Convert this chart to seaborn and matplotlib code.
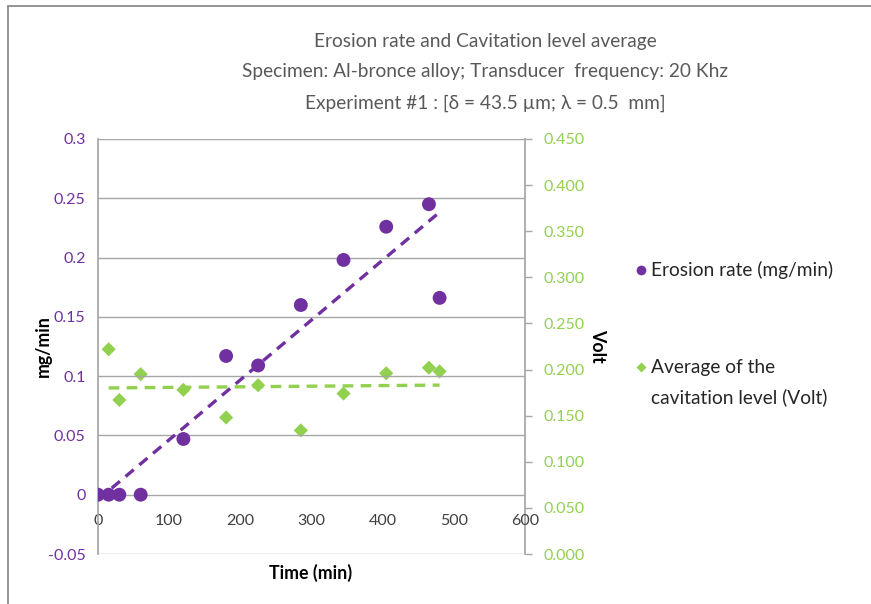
import numpy as np
import pandas as pd
import matplotlib
matplotlib.use("Agg")
import matplotlib.pyplot as plt
import seaborn as sns
from matplotlib.lines import Line2D

# ---- data ----
time_erosion = [0, 15, 30, 60, 120, 180, 225, 285, 345, 405, 465, 480]
erosion_rate = [0, 0, 0, 0, 0.047, 0.117, 0.109, 0.160, 0.198, 0.226, 0.245, 0.166]
time_cavitation = [15, 30, 60, 120, 180, 225, 285, 345, 405, 465, 480]
cavitation_level = [0.222, 0.167, 0.195, 0.178, 0.148, 0.183, 0.134, 0.174, 0.196, 0.202, 0.198]

x_ticks = [0, 100, 200, 300, 400, 500, 600]
left_ticks = [-0.05, 0, 0.05, 0.1, 0.15, 0.2, 0.25, 0.3]
left_labels = ["-0.05", "0", "0.05", "0.1", "0.15", "0.2", "0.25", "0.3"]
right_ticks = [0.0, 0.05, 0.1, 0.15, 0.2, 0.25, 0.3, 0.35, 0.4, 0.45]
right_labels = ["0.000", "0.050", "0.100", "0.150", "0.200", "0.250", "0.300", "0.350", "0.400", "0.450"]

title_lines = ["Erosion rate and Cavitation level average",
               "Specimen: Al-bronce alloy; Transducer  frequency: 20 Khz",
               "Experiment #1 : [δ = 43.5 µm; λ = 0.5  mm]"]
legend_labels = ["Erosion rate (mg/min)", "Average of the\ncavitation level (Volt)"]

df_e = pd.DataFrame({"t": time_erosion, "v": erosion_rate})
df_c = pd.DataFrame({"t": time_cavitation, "v": cavitation_level})

PURPLE = "#7030A0"
GREEN = "#92D050"
GRID = "#A6A6A6"

sns.set_theme(style="white")
plt.rcParams["font.family"] = ["Lato", "DejaVu Sans"]

W, H = 871, 604
fig = plt.figure(figsize=(W / 100, H / 100), dpi=100)
fig.patch.set_facecolor("white")

def fx(px):
    return px / W

def fy(py):
    return 1 - py / H

L, R, T, B = 98, 525, 139, 554
ax = fig.add_axes([fx(L), fy(B), fx(R) - fx(L), fy(T) - fy(B)])
ax2 = ax.twinx()

# outer chart border (only left and top edges visible in the crop)
fig.add_artist(Line2D([fx(8), fx(8)], [fy(6), 0], transform=fig.transFigure,
                      color="#8C8C8C", linewidth=1.3))
fig.add_artist(Line2D([fx(8), 1], [fy(6), fy(6)], transform=fig.transFigure,
                      color="#8C8C8C", linewidth=1.3))

# left axis: erosion
ax.set_xlim(0, 600)
ax.set_ylim(-0.05, 0.3)
ax.set_yticks(left_ticks)
ax.set_yticklabels(left_labels)
ax.set_xticks(x_ticks)
ax.grid(axis="y", color=GRID, linewidth=1.0)
ax.grid(axis="x", visible=False)
ax.set_axisbelow(True)
for s in ["top", "right"]:
    ax.spines[s].set_visible(False)
ax.spines["left"].set_color(GRID)
ax.spines["bottom"].set_position(("data", 0))
ax.spines["bottom"].set_visible(False)
ax.tick_params(axis="y", colors=PURPLE, labelsize=11.5, length=0, pad=9)
ax.tick_params(axis="x", colors="#404040", labelsize=11.5, length=0, pad=14)

# right axis: cavitation
ax2.set_ylim(0, 0.45)
ax2.set_yticks(right_ticks)
ax2.set_yticklabels(right_labels)
ax2.grid(False)
for s in ["top", "left", "bottom"]:
    ax2.spines[s].set_visible(False)
ax2.spines["right"].set_color(GRID)
ax2.tick_params(axis="y", labelsize=11.5, length=5, width=1,
                direction="out", pad=8, color=GRID, labelcolor=GREEN)

# trend lines
sns.regplot(data=df_e, x="t", y="v", ax=ax, scatter=False, ci=None, truncate=True,
            line_kws=dict(color=PURPLE, linewidth=2.4, linestyle=(0, (3.2, 2.2))))
sns.regplot(data=df_c, x="t", y="v", ax=ax2, scatter=False, ci=None, truncate=True,
            line_kws=dict(color=GREEN, linewidth=2.4, linestyle=(0, (3.2, 2.2))))

# markers
sns.scatterplot(data=df_e, x="t", y="v", ax=ax, color=PURPLE, marker="o", s=100,
                edgecolor="none", zorder=5)
sns.scatterplot(data=df_c, x="t", y="v", ax=ax2, color=GREEN, marker="D", s=52,
                edgecolor="none", zorder=5)

ax.set_xlabel("")
ax.set_ylabel("")
ax2.set_xlabel("")
ax2.set_ylabel("")
ax.set_xlim(0, 600)
ax.set_ylim(-0.05, 0.3)
ax2.set_ylim(0, 0.45)
ax.set_zorder(ax2.get_zorder() + 1)
ax.patch.set_visible(False)

# titles
for i, line in enumerate(title_lines):
    fig.text(fx(485), fy(41 + 31 * i), line, ha="center", va="center",
             fontsize=13.8, color="#595959")

# axis titles
fig.text(fx(311), fy(573), "Time (min)", ha="center", va="center",
         fontsize=12.8, fontweight="bold", color="black")
fig.text(fx(43), fy(346), "mg/min", ha="center", va="center", rotation=90,
         fontsize=12.8, fontweight="bold", color="black")
fig.text(fx(598), fy(346), "Volt", ha="center", va="center", rotation=-90,
         fontsize=12.8, fontweight="bold", color="black")

# legend (drawn manually so the marker sits on the first text line)
legend_markers = [("o", 7, PURPLE, 270), ("D", 5.5, GREEN, 367)]
for (mk, ms, col, py), label in zip(legend_markers, legend_labels):
    fig.add_artist(Line2D([fx(641)], [fy(py)], transform=fig.transFigure,
                          linestyle="none", marker=mk, markersize=ms,
                          markerfacecolor=col, markeredgecolor="none"))
    for j, part in enumerate(label.split("\n")):
        fig.text(fx(651), fy(py + 30 * j), part, ha="left", va="center",
                 fontsize=13.8, color="#262626")

fig.savefig("out.png", dpi=100)
